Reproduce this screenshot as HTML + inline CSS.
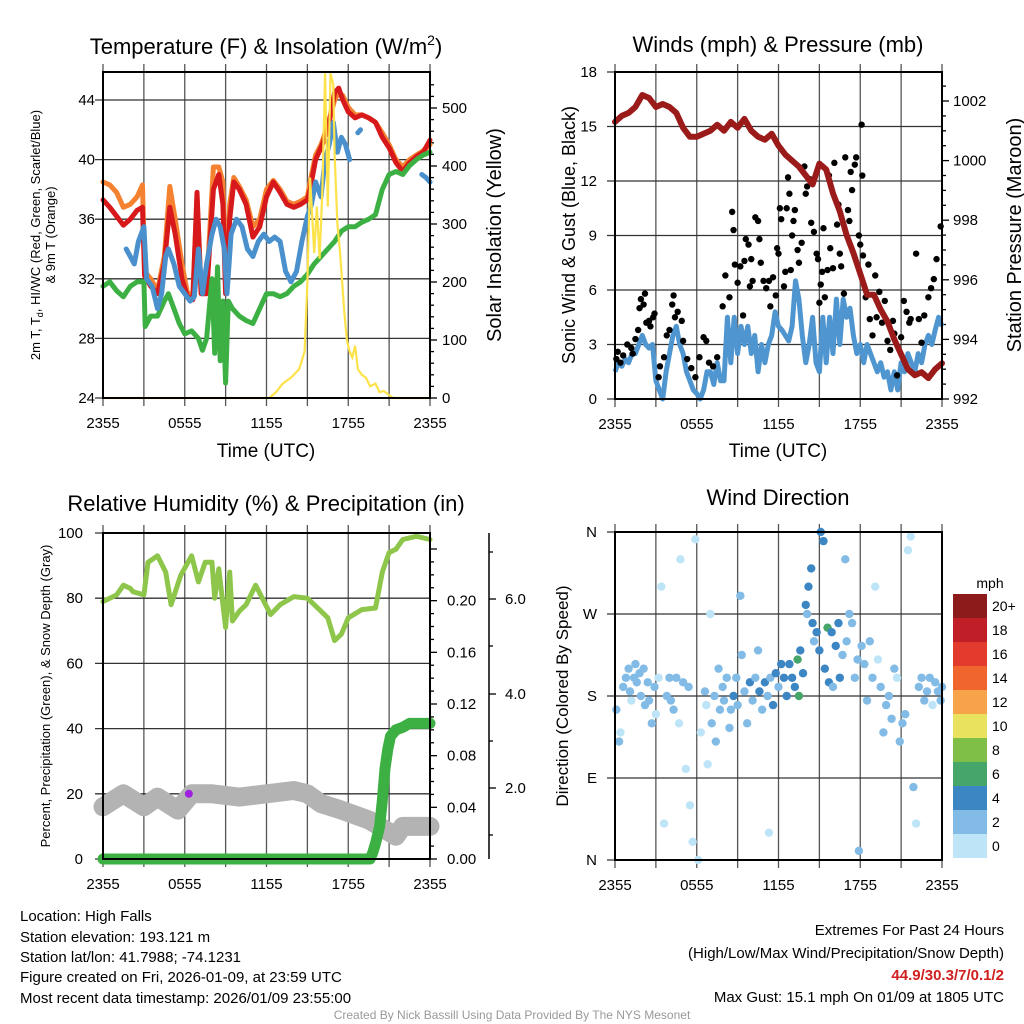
<!DOCTYPE html>
<html><head><meta charset="utf-8"><style>
html,body{margin:0;padding:0;background:#fff}
svg{display:block;font-family:"Liberation Sans",sans-serif}
</style></head><body>
<svg id="s" width="1024" height="1024" viewBox="0 0 1024 1024" xmlns="http://www.w3.org/2000/svg">
<g id="g1"></g>
<g id="g2"></g>
<g id="g3"></g>
<g id="g4"></g>
<text x="266" y="54" font-size="22" text-anchor="middle">Temperature (F) &amp; Insolation (W/m<tspan dy="-9" font-size="14">2</tspan><tspan dy="9">)</tspan></text>
<text x="778" y="52" font-size="22" text-anchor="middle">Winds (mph) &amp; Pressure (mb)</text>
<text x="266" y="511" font-size="22" text-anchor="middle">Relative Humidity (%) &amp; Precipitation (in)</text>
<text x="778" y="505" font-size="22" text-anchor="middle">Wind Direction</text>
<g font-size="15">
<text x="20" y="921">Location: High Falls</text>
<text x="20" y="942">Station elevation: 193.121 m</text>
<text x="20" y="962">Station lat/lon: 41.7988; -74.1231</text>
<text x="20" y="982">Figure created on Fri, 2026-01-09, at 23:59 UTC</text>
<text x="20" y="1003">Most recent data timestamp: 2026/01/09 23:55:00</text>
</g>
<g font-size="15" text-anchor="end">
<text x="1004" y="935">Extremes For Past 24 Hours</text>
<text x="1004" y="958">(High/Low/Max Wind/Precipitation/Snow Depth)</text>
<text x="1004" y="980" fill="#d02020" font-weight="bold">44.9/30.3/7/0.1/2</text>
<text x="1004" y="1002">Max Gust: 15.1 mph On 01/09 at 1805 UTC</text>
</g>
<text x="512" y="1019" font-size="12" fill="#999" text-anchor="middle">Created By Nick Bassill Using Data Provided By The NYS Mesonet</text>
</svg>
<script>
// ---------- data ----------
const xTickLabels=["2355","0555","1155","1755","2355"];
const tempT=[0,0.5,1,1.5,2,2.5,2.9,3.05,3.5,4,4.5,4.9,5.3,5.8,6.2,6.6,6.9,7.2,7.6,8.1,8.5,8.8,9.0,9.3,9.6,10,10.5,11,11.5,12,12.5,13,13.5,14,14.5,15,15.2,15.6,16,16.5,17,17.3,17.6,18,18.5,19,19.5,20,20.5,21,21.5,22,22.5,23,23.5,24];
const tempRed=[37.3,36.8,36.2,35.6,36,36.6,36.8,32.2,31.5,31,33,36.8,35,32,30.8,30.6,37.8,31,31,38,39,37,31,36,38.5,38,37,34.8,35.5,37.5,38.5,37.8,37,36.8,37,37.3,38,40,40.8,42,44.5,44.8,44,43.2,42.8,43,42.8,42.5,41.5,40.8,39.8,39.2,39.8,40.2,40.5,41.3];
const temp9m=[38.5,38.3,37.8,36.8,37,37.5,38.3,32.5,32,31.2,33.5,38.2,36,33,31,31,37.5,31.2,31.5,39.5,39.5,38.5,31.2,37,38.8,38.2,37.3,35.5,36,38,38.6,38,37.2,37,37.2,37.5,38.5,40.3,41,42.3,44,44.5,44.3,43.5,43,43,42.8,42.5,41.8,41,40,39.5,40,40.3,40.6,41];
const dewT=[0,0.5,1,1.5,2,2.5,3.0,3.1,3.5,4,4.5,4.8,5.2,5.6,6,6.5,7,7.3,7.6,8.0,8.2,8.4,8.6,8.8,9.0,9.2,9.5,10,10.5,11,11.5,12,12.5,13,13.5,14,14.5,15,15.5,16,16.5,17,17.5,18,18.5,19,19.5,20,20.5,21,21.5,22,22.5,23,23.5,24];
const dewV=[31.5,31.8,31.2,30.8,31.5,31.8,31.8,28.8,29.5,29.5,30.5,31,30,29,28.3,28.5,28,27.2,28,32,27,32.8,26.5,30.5,25,30.5,30,29.5,29.2,29,30,31,31,30.8,31,31.5,31.8,32.3,33,33.5,34,34.5,35.2,35.5,35.5,35.8,36,36.3,38,39,39.2,39,39.6,40,40.3,40.5];
const hiT=[1.7,2,2.3,2.6,3.0,3.2,3.6,4.0,4.3,4.6,4.8,5.2,5.6,6.0,6.4,6.7,7.0,7.3,7.6,8.0,8.3,8.6,8.9,9.1,9.4,9.8,10.2,10.6,11.0,11.4,11.8,12.2,12.6,13,13.4,13.8,14.2,14.6,15.0,15.3,15.6,16,16.3,16.6,16.9,17.2,17.5,17.8,18.1,18.4,18.7,18.9,19.5,23.4,23.7,24];
const hiV=[34,33.5,33,34.5,35.5,32,31.5,30,31,33.5,34,33,31.5,31,30.5,30.8,34,31,33,35,36,35.5,34,31,35,36,35.5,34,33.5,34.5,35,34.5,34.8,34.5,32.5,31.8,32.5,34.5,36.2,37,38.5,37.5,40,41,42.5,40.5,41.5,41,40,null,41.8,42,null,39,38.8,38.5];
const solT=[0,12.2,12.7,13.2,13.8,14.4,14.8,15.0,15.2,15.5,15.7,15.9,16.1,16.3,16.5,16.7,16.9,17.0,17.2,17.4,17.7,17.9,18.1,18.3,18.5,18.7,19.0,19.3,19.6,20.0,20.3,20.6,21.0,21.3,21.6,24];
const solV=[0,0,10,25,35,50,80,200,380,250,330,240,360,560,330,560,540,420,300,250,150,100,80,70,90,50,40,35,20,25,10,12,5,0,0,0];
const presT=[0,0.5,1,1.5,2,2.5,3,3.5,4,4.5,5,5.5,6,6.5,7,7.5,8,8.5,9,9.5,10,10.5,11,11.5,12,12.5,13,13.5,14,14.5,15,15.5,16,16.5,17,17.5,18,18.5,19,19.5,20,20.5,21,21.5,22,22.5,23,23.5,24];
const presV=[1001.3,1001.5,1001.6,1001.8,1002.2,1002.1,1001.8,1001.9,1001.8,1001.6,1001.1,1000.8,1000.8,1000.9,1001.0,1001.2,1001.0,1001.3,1001.1,1001.4,1001.0,1000.8,1000.7,1000.9,1000.5,1000.2,1000.0,999.8,999.5,999.2,999.9,999.7,998.9,998.3,997.5,996.9,996.2,995.5,995.5,995.0,994.6,994.0,993.5,993.0,992.8,992.9,992.7,993.0,993.2];
const windV=[1.5,2,1.8,2.2,2,2.5,2.5,3,3.5,3,2.8,3,1,0.5,0,1.5,2.5,3.5,4,3,2.5,1.5,1,0.5,0.3,0,0.5,1.5,1.5,0.8,2,1,1,4.5,2,4.5,2.5,4,3,4,2.5,3.5,1.5,3,2,3,3.5,4.8,4,3.8,3.5,3.2,4,6.5,5.5,3.5,2,3,4.5,2,1.5,4.5,2,4.5,2.5,5.5,3,5.5,4.5,5,3.5,2.5,3,2,3,2.5,2,1.5,2,1.2,1.5,0.5,1.5,0.5,2,1.5,2.5,2,1.5,2.5,2,3,3.5,3,3.8,4.5,4];
const gustT=[0.1,0.2,0.4,0.6,0.9,1.2,1.3,1.5,1.7,1.8,1.9,2.1,2.2,2.3,2.5,2.6,2.8,2.9,3.2,3.3,3.6,3.8,4.0,4.2,4.3,4.4,4.6,4.9,5.0,5.3,5.6,5.9,6.2,6.5,6.7,6.9,7.2,7.5,7.9,8.1,8.4,8.6,8.7,8.8,9.0,9.2,9.4,9.5,9.6,9.8,9.9,10.0,10.1,10.3,10.5,10.6,10.7,10.9,11.1,11.3,11.4,11.6,11.8,11.9,12.0,12.1,12.2,12.4,12.5,12.6,12.7,12.8,12.9,13.0,13.1,13.2,13.4,13.5,13.7,13.9,14.0,14.1,14.3,14.4,14.6,14.8,14.9,15.0,15.1,15.2,15.3,15.4,15.6,15.7,15.8,16.0,16.1,16.3,16.4,16.5,16.6,16.8,16.9,17.1,17.2,17.3,17.4,17.6,17.7,18.1,17.9,18.0,18.15,18.2,18.4,18.6,18.7,18.9,19.1,19.2,19.4,19.6,19.8,20.0,20.2,20.4,20.5,20.7,21.0,21.2,21.4,21.6,21.7,22.1,22.3,22.5,22.7,23.0,23.2,23.4,23.6,23.9];
const gustV=[2.2,2.6,2,2.4,3,2.8,2.5,3.3,3.8,5,5.5,5.2,5.8,4.2,4.3,4,4.5,4.7,1.2,1.8,2.3,3.5,3.8,5.2,5.7,4.5,4.8,4.3,3.2,2.2,1.7,1.2,2.3,3.4,3.2,2,1.8,2.3,5.1,6.8,5.6,10.3,9.3,7.4,6.4,7.3,4.6,7.6,8.8,8.5,6.2,7.7,6.5,10,9.8,8.8,7.5,6.5,6.1,6.5,5.1,6.7,5.7,8.3,8,10.5,9.9,6.2,7,10.5,12.2,11.3,7.1,9,9.8,10.4,8.2,7.5,8.6,12.8,11.3,11.7,12.1,9.7,9.2,8,7.7,5.3,6.3,7,9.4,5.6,7.1,12.3,8.3,7.2,13,9.6,10.7,8,7.3,5.8,13.3,10.4,9.8,12.5,11.5,12.9,13.3,15.1,9,8.5,12.3,7.9,5.6,7.4,4.4,3.5,6.8,4.5,5.9,4.2,5.4,3.2,2.7,4.3,3.6,1.3,3.4,5.4,4.8,4.2,4.4,8,4.4,3.1,4.6,5.6,6.1,6.6,7.7,9.5];
const rhT=[0,0.5,1,1.5,2,2.2,3,3.3,4,4.6,5,5.7,6.5,7,7.5,8,8.2,8.5,9,9.3,9.5,10,10.5,11.2,12.3,13,14,15,16,16.5,17,17.5,18,19,20,20.5,21,21.5,22,23,24];
const rhV=[79,80,81,84,83,82,81,91,93,88,78,87,93,85,91,91,80,89,71,88,73,76,78,84,75,78,80.5,80,76,74,67,69,74,76.5,77,88,94,95,98,99,98];
const snowT=[0,1.5,3,4,5.5,6.5,8,10,12,14,15,16,17.5,19.5,21.5,22,24];
const snowV=[16,20,16,19,15,20,20,19,20,21,20,17,15,12,7,10,10];
const precT=[0,19.6,19.8,20,20.3,20.5,20.7,20.9,21.1,21.5,22,22.5,24];
const precV=[0,0,0.005,0.012,0.025,0.045,0.07,0.085,0.095,0.1,0.102,0.105,0.105];
const dirT=[0.1,0.3,0.4,0.6,0.8,1,1.1,1.2,1.4,1.5,1.6,1.8,1.9,2.1,2.2,2.4,2.5,2.7,2.9,3.0,3.2,3.4,3.6,3.8,4.0,4.1,4.3,4.5,4.7,4.8,5.0,5.2,5.4,5.5,5.7,5.9,6.1,6.3,6.6,6.7,6.8,7.0,7.1,7.3,7.4,7.6,7.7,7.9,8.0,8.2,8.4,8.5,8.7,8.9,9.0,9.2,9.3,9.5,9.7,9.9,10.1,10.3,10.5,10.6,10.8,11.0,11.2,11.3,11.4,11.6,11.8,12.0,12.2,12.4,12.6,12.8,13.0,13.2,13.4,13.5,13.6,13.8,14.0,14.1,14.2,14.4,14.5,14.6,14.8,15.0,15.1,15.3,15.4,15.6,15.7,15.9,16.0,16.2,16.4,16.5,16.7,16.9,17.0,17.2,17.4,17.6,17.8,17.9,18.1,18.3,18.5,18.7,18.9,19.1,19.3,19.5,19.7,19.9,20.1,20.3,20.5,20.7,20.9,21.1,21.3,21.5,21.7,21.9,22.1,22.3,22.5,22.7,22.9,23.1,23.3,23.5,23.7,23.9,24];
const dirV=[165,130,140,190,200,210,185,175,200,215,195,205,180,210,170,195,175,150,190,160,200,300,40,180,200,175,165,200,150,330,195,100,190,60,20,352,0,140,185,170,105,270,150,180,130,210,165,190,175,200,145,165,180,200,170,290,225,185,150,195,175,200,230,185,165,195,180,30,200,170,205,190,215,200,180,215,200,190,220,180,230,205,280,270,300,320,260,240,250,230,360,350,210,255,195,250,190,235,260,200,225,330,240,270,260,200,220,10,235,215,175,240,200,300,220,190,140,170,180,155,210,200,130,150,160,340,355,80,40,190,200,175,185,200,170,195,185,175,190];
const dirSpd=[2,2,1,2,2,2,2,1,2,2,3,2,2,2,2,3,2,2,2,1,1,1,1,2,2,2,2,2,1,1,2,1,2,1,1,1,1,1,2,1,1,1,2,2,2,2,3,3,3,3,2,3,4,3,3,2,2,3,2,4,3,3,2,4,3,4,3,1,3,4,4,3,5,4,4,5,5,4,6,6,5,4,4,3,4,4,5,3,4,5,4,4,4,6,4,5,3,5,5,4,3,2,3,2,3,2,2,2,2,2,2,2,2,1,1,2,2,2,2,2,2,1,2,2,2,1,1,2,1,2,2,2,2,2,1,2,2,2,2];
const dirLabels=["N","E","S","W","N"];
const cbLabels=["20+","18","16","14","12","10","8","6","4","2","0"];
const cbColors=["#8e1b1b","#c11f27","#e23a2d","#f0642e","#f7a34a","#e9e25e","#7fbf48","#46a66a","#3d86c4","#82bbe5","#bde4f7"];

// ---------- helpers ----------
const NS="http://www.w3.org/2000/svg";
function mk(parent,tag,attrs,txt){const e=document.createElementNS(NS,tag);for(const k in attrs)e.setAttribute(k,attrs[k]);if(txt!==undefined)e.textContent=txt;parent.appendChild(e);return e;}
function lin(d0,d1,r0,r1){return v=>r0+(v-d0)/(d1-d0)*(r1-r0);}
function pathFrom(ts,vs,xs,ys){let d="",pen=false;for(let i=0;i<ts.length;i++){if(vs[i]===null||vs[i]===undefined){pen=false;continue;}d+=(pen?"L":"M")+xs(ts[i]).toFixed(1)+","+ys(vs[i]).toFixed(1);pen=true;}return d;}
function frame(g,L,R,T,B,xs){
  for(let h=0;h<=24;h+=3){const x=xs(h);const l=mk(g,"line",{x1:x,x2:x,y1:T-8,y2:B+8,stroke:"#555","stroke-width":1.3});
    }
  for(let i=0;i<5;i++){const t=mk(g,"text",{x:xs(i*6),y:B+30,"font-size":15,"text-anchor":"middle"},xTickLabels[i]);
    }
}
function box(g,L,R,T,B){const r=mk(g,"rect",{x:L,y:T,width:R-L,height:B-T,fill:"none",stroke:"#000","stroke-width":2});}
function hgrid(g,L,R,y){const l=mk(g,"line",{x1:L-8,x2:R,y1:y,y2:y,stroke:"#333","stroke-width":1.3});}
function ylab(g,x,y,txt,anchor,size){const t=mk(g,"text",{x:x,y:y+5,"font-size":size||15,"text-anchor":anchor},txt);}
function rtick(g,x,y,len){const l=mk(g,"line",{x1:x,x2:x+len,y1:y,y2:y,stroke:"#000","stroke-width":1.3});}
function vtitle(g,x,y,txt,size){const t=mk(g,"text",{x:x,y:y,"font-size":size,"text-anchor":"middle",transform:`rotate(-90 ${x} ${y})`},txt);return t;}

// ---------- panel 1 ----------
(function(){
 const g=document.getElementById("g1");const L=103,R=430,T=72,B=398;
 const xs=lin(0,24,L,R),ys=lin(24,44,398,100),yr=lin(0,500,398,108);
 frame(g,L,R,T,B,xs);
 for(let v=24;v<=44;v+=4){hgrid(g,L,R,ys(v));ylab(g,95,ys(v),String(v),"end");}
 for(let v=0;v<=550;v+=20){rtick(g,R,yr(v),v%100===0?7:4);}
 for(let v=0;v<=500;v+=100){ylab(g,442,yr(v),String(v),"start");}
 const s=[[tempT,temp9m,"#f58231",5,"nine-meter-temp-line"],[tempT,tempRed,"#d7191c",5,"temperature-line"],[dewT,dewV,"#3cb043",5,"dewpoint-line"],[hiT,hiV,"#4a90cc",5,"heat-index-line"]];
 s.forEach(a=>{const p=mk(g,"path",{d:pathFrom(a[0],a[1],xs,ys),fill:"none",stroke:a[2],"stroke-width":a[3],"stroke-linejoin":"round","stroke-linecap":"round"});});
 const p=mk(g,"path",{d:pathFrom(solT,solV,xs,yr),fill:"none",stroke:"#fde24a","stroke-width":2.2});
 box(g,L,R,T,B);
 const t1=vtitle(g,40,235,"",13);t1.innerHTML='2m T, T<tspan font-size="9" dy="3">d</tspan><tspan dy="-3">, HI/WC (Red, Green, Scarlet/Blue)</tspan>';
 vtitle(g,55,235,"& 9m T (Orange)",13);
 vtitle(g,501,235,"Solar Insolation (Yellow)",20);
 const xt=mk(g,"text",{x:266,y:457,"font-size":19,"text-anchor":"middle"},"Time (UTC)");
})();

// ---------- panel 2 ----------
(function(){
 const g=document.getElementById("g2");const L=615,R=942,T=72,B=399;
 const xs=lin(0,24,L,R),ys=lin(0,18,399,72),yr=lin(992,1002,399,101);
 frame(g,L,R,T,B,xs);
 for(let v=0;v<=18;v+=3){hgrid(g,L,R,ys(v));ylab(g,597,ys(v),String(v),"end");}
 for(let v=992;v<=1002.9;v+=0.5){rtick(g,R,yr(v),Math.abs(v%2)<0.01?7:4);}
 for(let v=992;v<=1002;v+=2){ylab(g,953,yr(v),String(v),"start");}
 const wt=windV.map((v,i)=>i*0.25);
 const p=mk(g,"path",{d:pathFrom(wt,windV,xs,ys),fill:"none",stroke:"#4f96d0","stroke-width":5,"stroke-linejoin":"round"});
 for(let i=0;i<gustT.length;i++){const c=mk(g,"circle",{cx:xs(gustT[i]),cy:ys(gustV[i]),r:3.2,fill:"#000"});
  }
 const q=mk(g,"path",{d:pathFrom(presT,presV,xs,yr),fill:"none",stroke:"#9b1b1b","stroke-width":6,"stroke-linejoin":"round","stroke-linecap":"round"});
 box(g,L,R,T,B);
 vtitle(g,575,235,"Sonic Wind & Gust (Blue, Black)",18);
 vtitle(g,1021,235,"Station Pressure (Maroon)",20);
 const xt=mk(g,"text",{x:778,y:457,"font-size":19,"text-anchor":"middle"},"Time (UTC)");
})();

// ---------- panel 3 ----------
(function(){
 const g=document.getElementById("g3");const L=103,R=430,T=533,B=859;
 const xs=lin(0,24,L,R),ys=lin(0,100,859,533),yr=lin(0,0.24,859,549);
 frame(g,L,R,T,B,xs);
 for(let v=0;v<=100;v+=20){hgrid(g,L,R,ys(v));ylab(g,83,ys(v),String(v),"end");}
 for(let v=0;v<=0.25;v+=0.01){rtick(g,R,yr(v),Math.round(v*100)%4===0?7:4);}
 for(let v=0;v<=0.24;v+=0.04){ylab(g,447,yr(v),v.toFixed(2),"start");}
 const ax=mk(g,"line",{x1:489,x2:489,y1:533,y2:859,stroke:"#000","stroke-width":1.5});
 [[599,"6.0"],[694,"4.0"],[788,"2.0"]].forEach(a=>{rtick(g,489,a[0],7);ylab(g,505,a[0],a[1],"start");});
 [552,646,741,835].forEach(y=>rtick(g,489,y,4));
 const sn=mk(g,"path",{d:pathFrom(snowT,snowV,xs,ys),fill:"none",stroke:"#b3b3b3","stroke-width":19,"stroke-linejoin":"round","stroke-linecap":"round"});
 const pu=mk(g,"circle",{cx:xs(6.3),cy:ys(20),r:4,fill:"#a020e0"});
 const rh=mk(g,"path",{d:pathFrom(rhT,rhV,xs,ys),fill:"none",stroke:"#8dc64a","stroke-width":5,"stroke-linejoin":"round","stroke-linecap":"round"});
 const pr=mk(g,"path",{d:pathFrom(precT,precV,xs,yr),fill:"none",stroke:"#3cb043","stroke-width":11,"stroke-linejoin":"round","stroke-linecap":"round"});
 box(g,L,R,T,B);
 vtitle(g,50,696,"Percent, Precipitation (Green), & Snow Depth (Gray)",13);
})();

// ---------- panel 4 ----------
(function(){
 const g=document.getElementById("g4");const L=615,R=942,T=532,B=860;
 const xs=lin(0,24,L,R),ys=lin(0,360,860,532);
 frame(g,L,R,T,B,xs);
 for(let i=0;i<5;i++){const y=ys(i*90);hgrid(g,L,R,y);ylab(g,597,y,dirLabels[i],"end");}
 for(let i=0;i<dirT.length;i++){const ci=10-Math.min(10,Math.floor(dirSpd[i]/2));
  const c=mk(g,"circle",{cx:xs(dirT[i]),cy:ys(dirV[i]),r:4.2,fill:cbColors[ci]});
  }
 box(g,L,R,T,B);
 vtitle(g,568,696,"Direction (Colored By Speed)",17);
 const u=mk(g,"text",{x:990,y:588,"font-size":14,"text-anchor":"middle"},"mph");
 for(let i=0;i<11;i++){const y=594+i*24;
  const r=mk(g,"rect",{x:953,y:y,width:34,height:24,fill:cbColors[i]});
  const t=mk(g,"text",{x:992,y:y+17,"font-size":14},cbLabels[i]);}
})();
</script>
</body></html>
